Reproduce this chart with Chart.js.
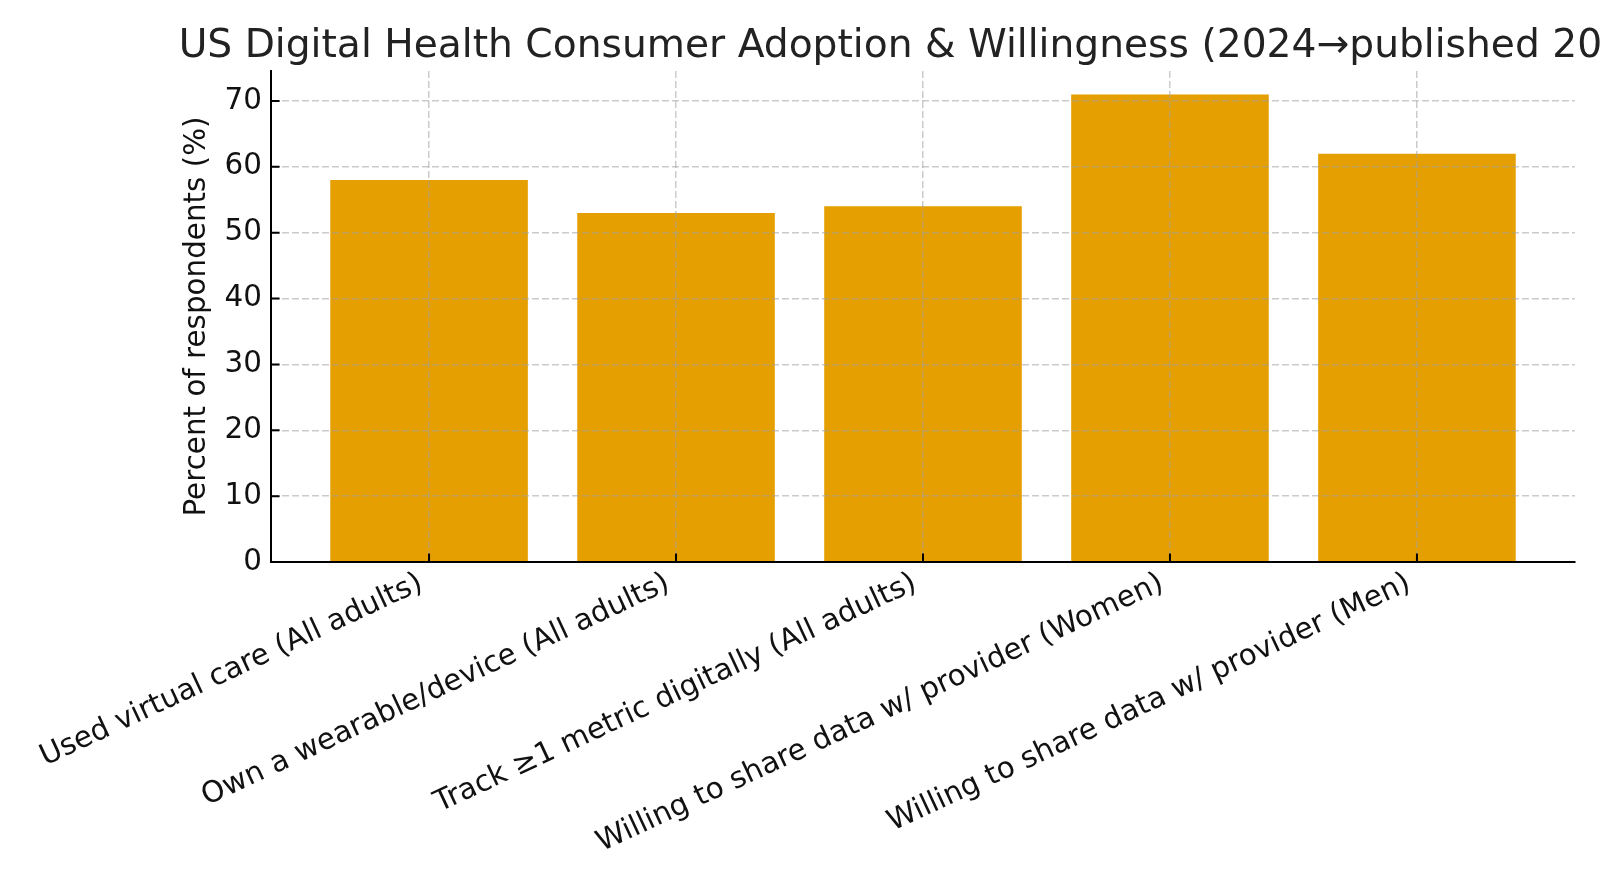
<!DOCTYPE html>
<html>
<head>
<meta charset="utf-8">
<script src="https://cdn.jsdelivr.net/npm/chart.js@4.4.1/dist/chart.umd.min.js"></script>
<style>
  html, body { margin: 0; padding: 0; background: #fff; }
  #wrap { width: 1600px; height: 889px; }
</style>
</head>
<body>
<div id="wrap"><canvas id="canvasChart"></canvas></div>
<script>
// chart values
var categories = [
  "Used virtual care (All adults)",
  "Own a wearable/device (All adults)",
  "Track \u22651 metric digitally (All adults)",
  "Willing to share data w/ provider (Women)",
  "Willing to share data w/ provider (Men)"
];
var percents = [58, 53, 54, 71, 62];
var yTicks = [0, 10, 20, 30, 40, 50, 60, 70];
var titleText = "US Digital Health Consumer Adoption & Willingness (2024\u2192published 2025)";
var yTitleText = "Percent of respondents (%)";

var fontFamily = "'DejaVu Sans', sans-serif";

// title centred over the plot area (runs off the right edge like the original)
var titlePlugin = {
  id: "plotTitle",
  afterDraw: function(chart) {
    var ctx = chart.ctx;
    var area = chart.chartArea;
    ctx.save();
    ctx.font = "39.2px " + fontFamily;
    ctx.fillStyle = "#222";
    ctx.textAlign = "center";
    ctx.textBaseline = "alphabetic";
    ctx.fillText(titleText, (area.left + area.right) / 2, 57);
    ctx.restore();
  }
};

// matplotlib style ticks pointing into the plot
var inwardTicks = {
  id: "inwardTicks",
  afterDraw: function(chart) {
    var ctx = chart.ctx;
    var xs = chart.scales.x;
    var ys = chart.scales.y;
    ctx.save();
    ctx.strokeStyle = "#000";
    ctx.lineWidth = 2;
    ctx.beginPath();
    for (var i = 0; i < categories.length; i++) {
      var px = xs.getPixelForValue(i);
      ctx.moveTo(px, ys.bottom);
      ctx.lineTo(px, ys.bottom - 8.6);
    }
    for (var j = 0; j < yTicks.length; j++) {
      var py = ys.getPixelForValue(yTicks[j]);
      ctx.moveTo(xs.left, py);
      ctx.lineTo(xs.left + 8.6, py);
    }
    ctx.stroke();
    ctx.restore();
  }
};

var barData = [];
for (var i = 0; i < categories.length; i++) {
  barData.push({ x: i, y: percents[i] });
}

var gridColor = "rgba(160,160,160,0.55)";

var config = {
  type: "bar",
  data: {
    datasets: [{
      data: barData,
      backgroundColor: "#E69F00",
      borderWidth: 0,
      categoryPercentage: 1.0,
      barPercentage: 0.8
    }]
  },
  options: {
    responsive: true,
    maintainAspectRatio: false,
    animation: false,
    layout: { padding: { top: 71, right: 25, left: 0, bottom: 0 } },
    plugins: {
      legend: { display: false },
      tooltip: { enabled: false }
    },
    scales: {
      x: {
        type: "linear",
        min: -0.64,
        max: 4.64,
        offset: false,
        afterBuildTicks: function(scale) {
          scale.ticks = categories.map(function(c, i) { return { value: i }; });
        },
        afterFit: function(scale) { scale.height = 327; },
        grid: {
          offset: false,
          color: gridColor,
          lineWidth: 1.5,
          drawTicks: false,
          z: 1
        },
        border: { color: "#000", width: 2, dash: [7, 3], z: 2 },
        ticks: {
          autoSkip: false,
          minRotation: 25,
          maxRotation: 25,
          padding: 4,
          labelOffset: -8,
          color: "#111",
          font: { family: fontFamily, size: 29.4 },
          callback: function(value) { return categories[Math.round(value)]; }
        }
      },
      y: {
        min: 0,
        max: 74.55,
        afterBuildTicks: function(scale) {
          scale.ticks = yTicks.map(function(v) { return { value: v }; });
        },
        afterFit: function(scale) { scale.width = 271; },
        grid: {
          color: gridColor,
          lineWidth: 1.5,
          drawTicks: false,
          z: 1
        },
        border: { color: "#000", width: 2, dash: [7, 3], z: 2 },
        ticks: {
          padding: 9,
          color: "#111",
          font: { family: fontFamily, size: 29.4 }
        },
        title: {
          display: true,
          text: yTitleText,
          color: "#111",
          font: { family: fontFamily, size: 29.4 },
          padding: { top: 180, bottom: 0 }
        }
      }
    }
  },
  plugins: [titlePlugin, inwardTicks]
};

var chart = new Chart(document.getElementById("canvasChart"), config);
</script>
</body>
</html>
